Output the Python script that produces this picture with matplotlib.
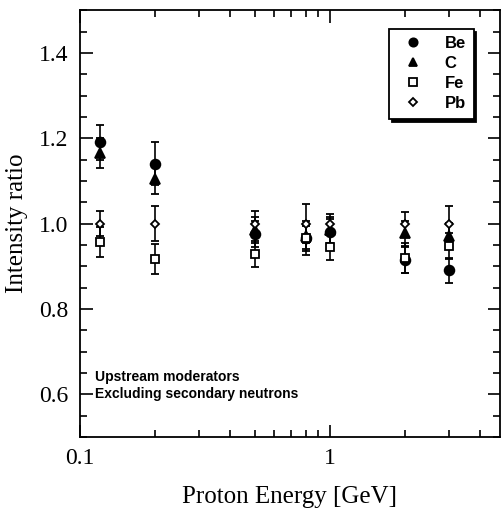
import numpy as np
import matplotlib.pyplot as plt
from matplotlib.lines import Line2D
from matplotlib.ticker import FixedLocator, NullFormatter, MultipleLocator

# proton energies [GeV]
energy = [0.12, 0.2, 0.5, 0.8, 1.0, 2.0, 3.0]

be = [1.19, 1.14, 0.975, 0.965, 0.98, 0.915, 0.89]
be_err = [0.04, 0.05, 0.03, 0.03, 0.03, 0.03, 0.03]

c = [1.165, 1.105, 0.985, 0.97, 0.985, 0.977, 0.972]
c_err = [0.035, 0.035, 0.03, 0.03, 0.03, 0.03, 0.03]

fe = [0.957, 0.917, 0.928, 0.966, 0.945, 0.92, 0.947]
fe_err = [0.035, 0.035, 0.03, 0.04, 0.03, 0.035, 0.03]

pb = [1.0, 1.0, 1.0, 1.0, 1.0, 1.0, 1.0]
pb_err = [0.03, 0.04, 0.03, 0.045, 0.022, 0.028, 0.04]

series = [
	('Be', be, be_err, 'o', 'black', 7),
	('C', c, c_err, '^', 'black', 7),
	('Fe', fe, fe_err, 's', 'white', 6),
	('Pb', pb, pb_err, 'D', 'white', 4.5),
]

fig = plt.figure(figsize=(5.02, 5.11), dpi=100)
ax = fig.add_axes([0.159, 0.145, 0.837, 0.835])

handles = []
for name, y, err, mk, fc, ms in series:
	ax.errorbar(energy, y, yerr=err, fmt=mk, color='black', mfc=fc, mec='black',
				mew=1.3, ms=ms, capsize=3, elinewidth=1.2, capthick=1.2)
	handles.append(Line2D([], [], ls='none', marker=mk, mfc=fc, mec='black',
						  mew=1.3, ms=ms * 0.85, label=name))

ax.set_xscale('log')
ax.set_xlim(0.1, 4.8)
ax.set_ylim(0.5, 1.5)

ax.xaxis.set_major_locator(FixedLocator([0.1, 1]))
ax.set_xticklabels(['0.1', '1'])
ax.xaxis.set_minor_locator(FixedLocator([0.2, 0.3, 0.4, 0.5, 0.6, 0.7, 0.8, 0.9, 2, 3, 4]))
ax.xaxis.set_minor_formatter(NullFormatter())
ax.yaxis.set_major_locator(FixedLocator([0.6, 0.8, 1.0, 1.2, 1.4]))
ax.set_yticklabels(['0.6', '0.8', '1.0', '1.2', '1.4'])
ax.yaxis.set_minor_locator(MultipleLocator(0.05))

ax.tick_params(which='both', direction='in', top=True, right=True, width=1.2)
ax.tick_params(which='major', length=9, labelsize=17, pad=8)
ax.tick_params(which='minor', length=5)
for lbl in ax.get_xticklabels() + ax.get_yticklabels():
	lbl.set_family('Liberation Serif')
for sp in ax.spines.values():
	sp.set_linewidth(1.3)

ax.set_xlabel('Proton Energy [GeV]', family='Liberation Serif', fontsize=18, labelpad=12)
ax.set_ylabel('Intensity ratio', family='Liberation Serif', fontsize=18, labelpad=8)

ax.text(0.115, 0.62, 'Upstream moderators\nExcluding secondary neutrons',
		family='Liberation Sans', weight='bold', fontsize=10, linespacing=1.25,
		transform=ax.transData, va='center')

leg = ax.legend(handles=handles, loc='upper right', bbox_to_anchor=(0.957, 0.976),
				frameon=True, fancybox=False, shadow={'color': 'black', 'alpha': 1},
				prop={'family': 'Liberation Sans', 'weight': 'bold', 'size': 12},
				handletextpad=0.9, borderpad=0.45, labelspacing=0.3, handlelength=2.0)
leg.get_frame().set_edgecolor('black')
leg.get_frame().set_linewidth(1.3)

fig.savefig('out.png', dpi=100)
